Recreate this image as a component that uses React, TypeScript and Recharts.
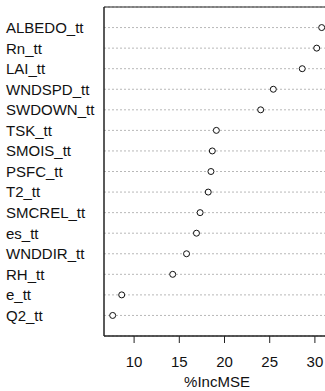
import { ScatterChart, Scatter, XAxis, YAxis, CartesianGrid, ReferenceArea } from "recharts";

// variable importance, top to bottom
const variables = [
  "ALBEDO_tt", "Rn_tt", "LAI_tt", "WNDSPD_tt", "SWDOWN_tt",
  "TSK_tt", "SMOIS_tt", "PSFC_tt", "T2_tt", "SMCREL_tt",
  "es_tt", "WNDDIR_tt", "RH_tt", "e_tt", "Q2_tt",
];
const incMSE = [30.75, 30.2, 28.6, 25.4, 24.0, 19.1, 18.65, 18.5, 18.2, 17.3, 16.9, 15.8, 14.27, 8.63, 7.63];
const xTicks = [10, 15, 20, 25, 30];

const n = variables.length;
const data = variables.map((name, i) => ({ name, value: incMSE[i], row: n - i }));
const rowTicks = data.map((d) => d.row).reverse();

const FONT = "'Liberation Sans', Arial, sans-serif";

const NameTick = ({ y, payload }: any) => {
  const d = data.find((r) => r.row === payload.value);
  return (
    <text x={6} y={y} dy="0.36em" textAnchor="start" fontSize={15} fontFamily={FONT} fill="#111">
      {d ? d.name : ""}
    </text>
  );
};

export default function App() {
  return (
    <div style={{ position: "absolute", left: 0, top: 0, width: 325, height: 391, overflow: "hidden", background: "#fff" }}>
      <ScatterChart width={335} height={391} margin={{ top: 7, right: 5, left: 0, bottom: 15 }}>
        <CartesianGrid vertical={false} stroke="#b8b8b8" strokeDasharray="2 2" />
        <XAxis
          type="number"
          dataKey="value"
          domain={[6.67, 31.67]}
          ticks={xTicks}
          interval={0}
          allowDataOverflow
          height={40}
          tickSize={7}
          tickMargin={13}
          stroke="#222"
          tick={{ fill: "#111", fontSize: 15, fontFamily: FONT }}
          label={{ value: "%IncMSE", position: "bottom", offset: 0, fill: "#111", fontSize: 15, fontFamily: FONT }}
        />
        <YAxis
          type="number"
          dataKey="row"
          domain={[0, n + 1]}
          ticks={rowTicks}
          interval={0}
          width={104}
          tickLine={false}
          stroke="#222"
          tick={<NameTick />}
        />
        <ReferenceArea x1={6.67} x2={31.67} y1={0} y2={n + 1} fill="none" stroke="#222" strokeOpacity={1} />
        <Scatter
          data={data}
          isAnimationActive={false}
          shape={(p: any) => <circle cx={p.cx} cy={p.cy} r={3} fill="#fff" stroke="#111" strokeWidth={1} />}
        />
      </ScatterChart>
    </div>
  );
}
